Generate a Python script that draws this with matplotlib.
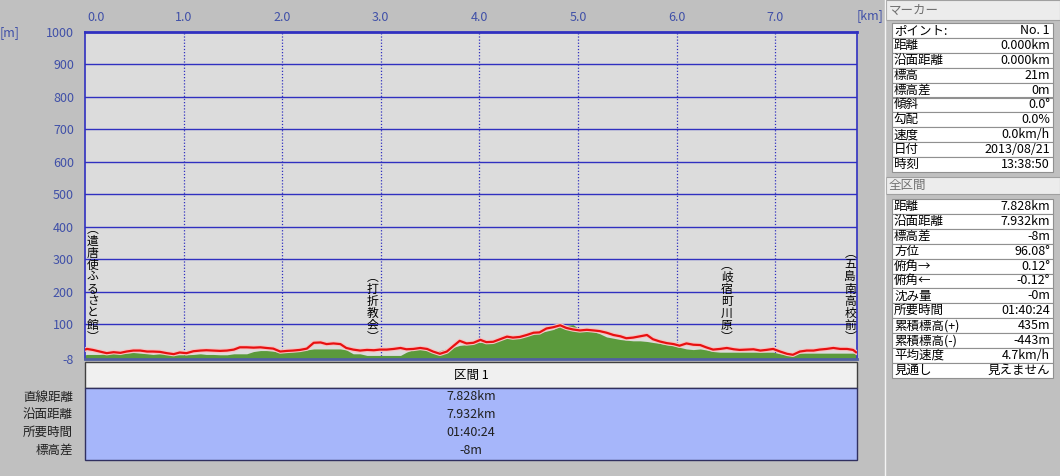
import matplotlib
matplotlib.use('Agg')
import matplotlib.pyplot as plt
from matplotlib.patches import Rectangle
from matplotlib.transforms import blended_transform_factory

plt.rcParams['font.family'] = ['Noto Sans CJK JP', 'DejaVu Sans']

# track profile: distance [km], GPS elevation (red) and map elevation (green) [m]
dist_km = [0.00, 0.02, 0.08, 0.15, 0.22, 0.29, 0.36, 0.42, 0.49, 0.56, 0.63,
           0.69, 0.76, 0.83, 0.90, 0.96, 1.03, 1.10, 1.17, 1.23, 1.30,
           1.37, 1.44, 1.51, 1.57, 1.64, 1.71, 1.78, 1.84, 1.91, 1.98,
           2.05, 2.11, 2.18, 2.25, 2.32, 2.39, 2.45, 2.52, 2.59,
           2.65, 2.72, 2.79, 2.86, 2.93, 2.99, 3.06, 3.13, 3.20, 3.26,
           3.33, 3.40, 3.47, 3.53, 3.60, 3.67, 3.74, 3.80, 3.87, 3.94,
           4.01, 4.07, 4.14, 4.21, 4.28, 4.34, 4.41, 4.48, 4.55, 4.61,
           4.68, 4.75, 4.82, 4.88, 4.95, 5.02, 5.09, 5.16, 5.22,
           5.29, 5.36, 5.43, 5.49, 5.56, 5.63, 5.70, 5.76, 5.83, 5.90,
           5.97, 6.03, 6.10, 6.17, 6.24, 6.30, 6.37, 6.44, 6.51, 6.58,
           6.64, 6.71, 6.78, 6.85, 6.91, 6.98, 7.05, 7.12, 7.18, 7.25,
           7.32, 7.39, 7.45, 7.52, 7.59, 7.66, 7.73, 7.79, 7.82]
red_m = [21, 23, 20, 15, 10, 13, 11, 15, 18, 18, 15,
         15, 14, 10, 7, 12, 10, 16, 18, 19, 18,
         17, 18, 21, 28, 28, 27, 28, 26, 24, 15,
         17, 18, 20, 24, 42, 43, 38, 40, 38,
         26, 21, 18, 20, 19, 21, 21, 23, 26, 22,
         23, 26, 23, 15, 8, 15, 33, 48, 40, 42,
         51, 44, 45, 53, 61, 58, 60, 66, 73, 74,
         86, 90, 96, 88, 83, 80, 82, 80, 78,
         73, 66, 62, 56, 58, 62, 66, 53, 46, 41,
         38, 33, 40, 36, 35, 28, 21, 23, 26, 22,
         20, 21, 22, 18, 20, 23, 15, 8, 5, 15,
         18, 18, 21, 23, 26, 23, 23, 20, 13]
green_m = [5, 6, 6, 6, 8, 13, 13, 10, 12, 10, 8,
           6, 8, 8, 5, 5, 5, 6, 8, 6, 6,
           5, 5, 8, 8, 8, 15, 18, 18, 16, 12,
           16, 18, 18, 20, 23, 23, 23, 23, 23,
           20, 8, 8, 3, 3, 3, 3, 3, 3, 13,
           21, 24, 20, 13, 18, 23, 28, 34, 36, 42,
           43, 46, 48, 54, 58, 60, 62, 68, 70, 73,
           78, 83, 93, 96, 98, 83, 78, 76, 70,
           60, 56, 52, 50, 48, 48, 46, 43, 40, 36,
           33, 28, 23, 21, 23, 20, 15, 13, 13, 13,
           13, 13, 13, 13, 13, 13, 8, 6, 10, 10,
           10, 10, 10, 10, 10, 10, 10, 10, 10]

x_ticks = [0, 1, 2, 3, 4, 5, 6, 7]
x_labels = ['0.0', '1.0', '2.0', '3.0', '4.0', '5.0', '6.0', '7.0']
y_ticks = [-8, 100, 200, 300, 400, 500, 600, 700, 800, 900, 1000]
y_labels = ['-8', '100', '200', '300', '400', '500', '600', '700', '800', '900', '1000']

place_names = ['︵遣唐使ふるさと館︶', '︵打折教会︶', '︵岐宿町川原︶', '︵五島南高校前︶']
place_km = [0.08, 2.92, 6.51, 7.76]

marker_labels = ['ポイント:', '距離', '沿面距離', '標高', '標高差', '傾斜', '勾配',
                 '速度', '日付', '時刻']
marker_values = ['No. 1', '0.000km', '0.000km', '21m', '0m', '0.0°', '0.0%',
                 '0.0km/h', '2013/08/21', '13:38:50']
total_labels = ['距離', '沿面距離', '標高差', '方位', '俯角→', '俯角←', '沈み量',
                '所要時間', '累積標高(+)', '累積標高(-)', '平均速度', '見通し']
total_values = ['7.828km', '7.932km', '-8m', '96.08°', '0.12°', '-0.12°', '-0m',
                '01:40:24', '435m', '-443m', '4.7km/h', '見えません']
section_labels = ['直線距離', '沿面距離', '所要時間', '標高差']
section_values = ['7.828km', '7.932km', '01:40:24', '-8m']

W, H = 1060, 476
BG = '#c0c0c0'
BLUE = '#3030c0'
TICK = '#4050a8'

fig = plt.figure(figsize=(W / 100, H / 100), dpi=100, facecolor=BG)


def px_rect(x0, y0, x1, y1, fc, ec='none', lw=0.8):
    fig.add_artist(Rectangle((x0 / W, 1 - y1 / H), (x1 - x0) / W, (y1 - y0) / H,
                             transform=fig.transFigure, fc=fc, ec=ec, lw=lw))


def px_text(x, y, s, **kw):
    fig.text(x / W, 1 - y / H, s, **kw)


# main profile axes
ax = fig.add_axes([85 / W, 1 - 359 / H, (857 - 85) / W, (359 - 32) / H])
ax.set_facecolor('#dcdcdc')
ax.set_xlim(0, 7.83)
ax.set_ylim(-8, 1000)

ax.fill_between(dist_km, -8, green_m, color='#5b9a3c', lw=0, zorder=2)
ax.plot(dist_km, red_m, color='#f4c4c4', lw=3.2, zorder=3)
ax.plot(dist_km, red_m, color='#e81010', lw=1.6, zorder=4)

for yv in y_ticks[1:-1]:
    ax.axhline(yv, color=BLUE, lw=1, zorder=1)
for xv in x_ticks[1:]:
    ax.axvline(xv, color=BLUE, lw=0.9, ls=(0, (1, 1.5)), zorder=1)

ax.set_xticks([])
ax.set_yticks(y_ticks)
ax.set_yticklabels(y_labels, color=TICK, fontsize=9)
ax.tick_params(axis='y', length=0, pad=8)
for sp in ax.spines.values():
    sp.set_color(BLUE)
    sp.set_linewidth(1.2)
ax.spines['top'].set_linewidth(2)
ax.spines['bottom'].set_color('#5060a0')
ax.spines['bottom'].set_linewidth(2)

trans = blended_transform_factory(ax.transData, ax.transAxes)
for xv, lab in zip(x_ticks, x_labels):
    xx = xv + 0.11 if xv == 0 else xv
    ax.text(xx, 1.045, lab, transform=trans, ha='center', va='center',
            color=TICK, fontsize=9)
px_text(870, 16, '[km]', ha='center', va='center', color=TICK, fontsize=9)
px_text(10, 33, '[m]', ha='center', va='center', color=TICK, fontsize=9)

# place names written vertically, one glyph per 12 px, ending near y=336 px
vtrans = blended_transform_factory(ax.transData, fig.transFigure)
for km, name in zip(place_km, place_names):
    n = len(name)
    for i, ch in enumerate(name):
        yy = 337 - (n - 1 - i) * 12
        ax.text(km, 1 - yy / H, ch, transform=vtrans, ha='center', va='center',
                fontsize=8.5, color='black', zorder=5)

# bottom section table
px_rect(85, 362, 857, 388, '#f0f0f0', ec='#404040', lw=1)
px_text(471, 375, '区間 1', ha='center', va='center', fontsize=9)
px_rect(85, 388, 857, 460, '#a6b6fa', ec='#303060', lw=1)
for i, (lab, val) in enumerate(zip(section_labels, section_values)):
    yy = 397 + i * 17.7
    px_text(73, yy, lab, ha='right', va='center', fontsize=9, color='#202020')
    px_text(471, yy, val, ha='center', va='center', fontsize=9, color='#202020')

# right-hand info panel
fig.add_artist(plt.Line2D([885 / W, 885 / W], [0, 1], transform=fig.transFigure,
                          color='#f4f4f4', lw=1))
px_rect(886, 0, 1060, 20, '#ececec', ec='#a0a0a0', lw=0.8)
px_text(889, 10, 'マーカー', ha='left', va='center', fontsize=9, color='#707070')
row_h = 14.9
for i, (lab, val) in enumerate(zip(marker_labels, marker_values)):
    y0 = 23 + i * row_h
    px_rect(892, y0, 1053, y0 + row_h, 'white', ec='#909090', lw=0.8)
    px_text(894, y0 + row_h / 2, lab, ha='left', va='center', fontsize=9)
    px_text(1050, y0 + row_h / 2, val, ha='right', va='center', fontsize=9)

px_rect(886, 177, 1060, 194, '#ececec', ec='#a0a0a0', lw=0.8)
px_text(889, 185.5, '全区間', ha='left', va='center', fontsize=9, color='#707070')
for i, (lab, val) in enumerate(zip(total_labels, total_values)):
    y0 = 199 + i * row_h
    px_rect(892, y0, 1053, y0 + row_h, 'white', ec='#909090', lw=0.8)
    px_text(894, y0 + row_h / 2, lab, ha='left', va='center', fontsize=9)
    px_text(1050, y0 + row_h / 2, val, ha='right', va='center', fontsize=9)

fig.savefig('out.png', dpi=100, facecolor=BG)
